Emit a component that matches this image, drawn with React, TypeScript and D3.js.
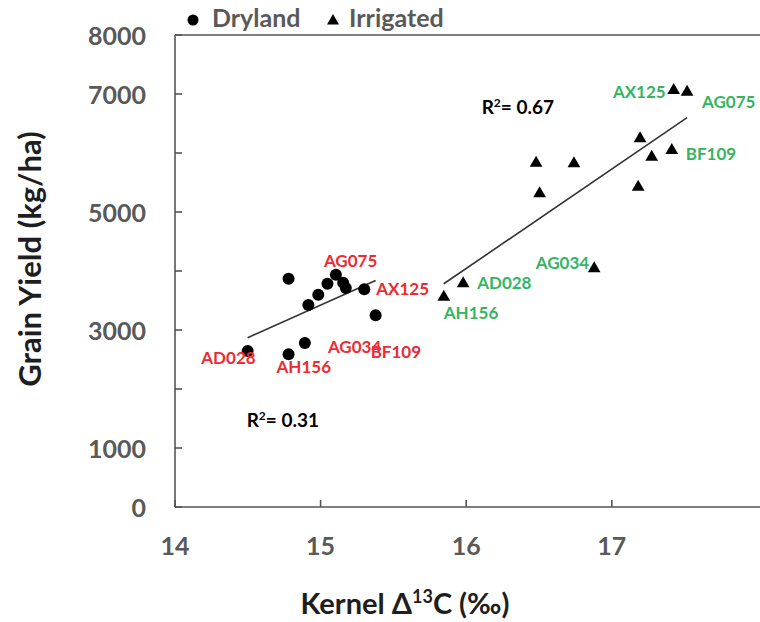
import React from 'react';
import * as d3 from 'd3';

// Kernel carbon isotope discrimination (‰) vs grain yield (kg/ha)
const dryX = [14.499, 14.78, 14.78, 14.892, 14.916, 14.984, 15.047, 15.105, 15.155, 15.173, 15.3, 15.378];
const dryY = [2644, 3870, 2588, 2780, 3424, 3599, 3785, 3938, 3802, 3712, 3689, 3249];
const dryNames = ['AD028', '', 'AH156', 'AG034', '', '', '', 'AG075', '', '', 'AX125', 'BF109'];

const irrX = [15.846, 15.979, 16.879, 16.48, 16.504, 16.74, 17.181, 17.194, 17.274, 17.412, 17.425, 17.517];
const irrY = [3559, 3785, 4040, 5831, 5311, 5819, 5424, 6243, 5932, 6045, 7062, 7034];
const irrNames = ['AH156', 'AD028', 'AG034', '', '', '', '', '', '', 'BF109', 'AX125', 'AG075'];

const seriesNames = ['Dryland', 'Irrigated'];
const rSquared = ['0.31', '0.67'];

const xTicks = [14, 15, 16, 17];
const yTicks = [0, 1000, 2000, 3000, 4000, 5000, 6000, 7000, 8000];
const yTickLabels = [0, 1000, 3000, 5000, 7000, 8000];

// layout
const W = 760;
const H = 622;
const FONT = "Lato, 'Open Sans', sans-serif";
const RED = '#ee2a32';
const GREEN = '#33b563';
const GREY = '#595959';
const INK = '#1e1e1e';

type LabelPos = { dx: number; dy: number; anchor: 'start' | 'end' };
const dryLabelPos: Record<string, LabelPos> = {
  AD028: { dx: 8, dy: 6, anchor: 'end' },
  AH156: { dx: -12, dy: 12, anchor: 'start' },
  AG034: { dx: 23, dy: 4, anchor: 'start' },
  AG075: { dx: -12, dy: -14, anchor: 'start' },
  AX125: { dx: 12, dy: -1, anchor: 'start' },
  BF109: { dx: -5, dy: 36, anchor: 'start' },
};
const irrLabelPos: Record<string, LabelPos> = {
  AH156: { dx: 0, dy: 15, anchor: 'start' },
  AD028: { dx: 14, dy: -1, anchor: 'start' },
  AG034: { dx: -5, dy: -6, anchor: 'end' },
  AX125: { dx: -8, dy: 1, anchor: 'end' },
  AG075: { dx: 15, dy: 10, anchor: 'start' },
  BF109: { dx: 14, dy: 3, anchor: 'start' },
};
// anchor of each R² annotation in data units (left edge, vertical centre)
const r2Anchor = [
  { x: 14.492, y: 1475 },
  { x: 16.106, y: 6780 },
];

function linFit(xs: number[], ys: number[]) {
  const mx = d3.mean(xs) as number;
  const my = d3.mean(ys) as number;
  let sxy = 0;
  let sxx = 0;
  xs.forEach((x, i) => {
    sxy += (x - mx) * (ys[i] - my);
    sxx += (x - mx) * (x - mx);
  });
  const slope = sxy / sxx;
  const intercept = my - slope * mx;
  const [x0, x1] = d3.extent(xs) as [number, number];
  return [
    [x0, intercept + slope * x0],
    [x1, intercept + slope * x1],
  ];
}

export default function App() {
  const x = d3.scaleLinear().domain([14, 18.1]).range([175, 175 + 4.1 * 145.6]);
  const y = d3.scaleLinear().domain([0, 8000]).range([507, 35]);
  const left = x(14);
  const top = y(8000);
  const bottom = y(0);

  const line = d3
    .line<number[]>()
    .x((d) => x(d[0]))
    .y((d) => y(d[1]));

  const tri = d3.symbol().type(d3.symbolTriangle).size(70)();
  const triLegend = d3.symbol().type(d3.symbolTriangle).size(62)();

  const dryFit = linFit(dryX, dryY);
  const irrFit = linFit(irrX, irrY);

  const labelStyle = { fontFamily: FONT, fontWeight: 700, fontSize: 17 } as const;

  return (
    <svg
      width={W}
      height={H}
      viewBox={`0 0 ${W} ${H}`}
      style={{ position: 'absolute', left: 0, top: 0, background: '#fff' }}
    >
      {/* legend */}
      <g fontFamily={FONT} fontWeight={700} fontSize={25} fill={GREY}>
        <circle cx={193} cy={20} r={5.5} fill="#000" />
        <text x={212} y={27}>{seriesNames[0]}</text>
        <path d={triLegend} transform="translate(333,21)" fill="#000" />
        <text x={349} y={27}>{seriesNames[1]}</text>
      </g>

      {/* frame */}
      <g stroke="#555" strokeWidth={1.6} fill="none">
        <line x1={left} x2={W} y1={top} y2={top} />
        <line x1={left} x2={W} y1={bottom} y2={bottom} />
        <line x1={left} x2={left} y1={top} y2={bottom} />
        {yTicks.map((t) => (
          <line key={`yt${t}`} x1={left} x2={left + 7} y1={y(t)} y2={y(t)} />
        ))}
        {xTicks.map((t) => (
          <line key={`xt${t}`} x1={x(t)} x2={x(t)} y1={bottom} y2={bottom - 7} />
        ))}
      </g>

      {/* tick labels */}
      <g fontFamily={FONT} fontWeight={700} fontSize={25} fill={GREY}>
        {yTickLabels.map((t) => (
          <text key={`yl${t}`} x={146} y={y(t)} textAnchor="end" dominantBaseline="central">
            {t}
          </text>
        ))}
        {xTicks.map((t) => (
          <text key={`xl${t}`} x={x(t)} y={555} textAnchor="middle">
            {t}
          </text>
        ))}
      </g>

      {/* axis titles */}
      <text
        transform="translate(41,259) rotate(-90)"
        textAnchor="middle"
        fontFamily={FONT}
        fontWeight={700}
        fontSize={31}
        fill={INK}
      >
        Grain Yield (kg/ha)
      </text>
      <text x={405} y={614} textAnchor="middle" fontFamily={FONT} fontWeight={700} fontSize={29} fill={INK}>
        Kernel Δ<tspan fontSize={18} dy={-11}>13</tspan>
        <tspan dy={11}>C (‰)</tspan>
      </text>

      {/* trend lines */}
      <path d={line(dryFit) as string} stroke="#333" strokeWidth={1.6} fill="none" />
      <path d={line(irrFit) as string} stroke="#333" strokeWidth={1.6} fill="none" />

      {/* points */}
      {dryX.map((v, i) => (
        <circle key={`d${i}`} cx={x(v)} cy={y(dryY[i])} r={6} fill="#000" />
      ))}
      {irrX.map((v, i) => (
        <path key={`i${i}`} d={tri as string} transform={`translate(${x(v)},${y(irrY[i])})`} fill="#000" />
      ))}

      {/* point labels */}
      {dryNames.map((n, i) => {
        if (!n) return null;
        const p = dryLabelPos[n];
        return (
          <text
            key={`dl${i}`}
            x={x(dryX[i]) + p.dx}
            y={y(dryY[i]) + p.dy}
            textAnchor={p.anchor}
            dominantBaseline="central"
            fill={RED}
            style={labelStyle}
          >
            {n}
          </text>
        );
      })}
      {irrNames.map((n, i) => {
        if (!n) return null;
        const p = irrLabelPos[n];
        return (
          <text
            key={`il${i}`}
            x={x(irrX[i]) + p.dx}
            y={y(irrY[i]) + p.dy}
            textAnchor={p.anchor}
            dominantBaseline="central"
            fill={GREEN}
            style={labelStyle}
          >
            {n}
          </text>
        );
      })}

      {/* R² annotations */}
      {rSquared.map((r, i) => (
        <text
          key={`r${i}`}
          x={x(r2Anchor[i].x)}
          y={y(r2Anchor[i].y) + 7}
          fontFamily={FONT}
          fontWeight={700}
          fontSize={19}
          fill="#000"
        >
          R<tspan fontSize={12} dy={-7}>2</tspan>
          <tspan dy={7}>= {r}</tspan>
        </text>
      ))}
    </svg>
  );
}
